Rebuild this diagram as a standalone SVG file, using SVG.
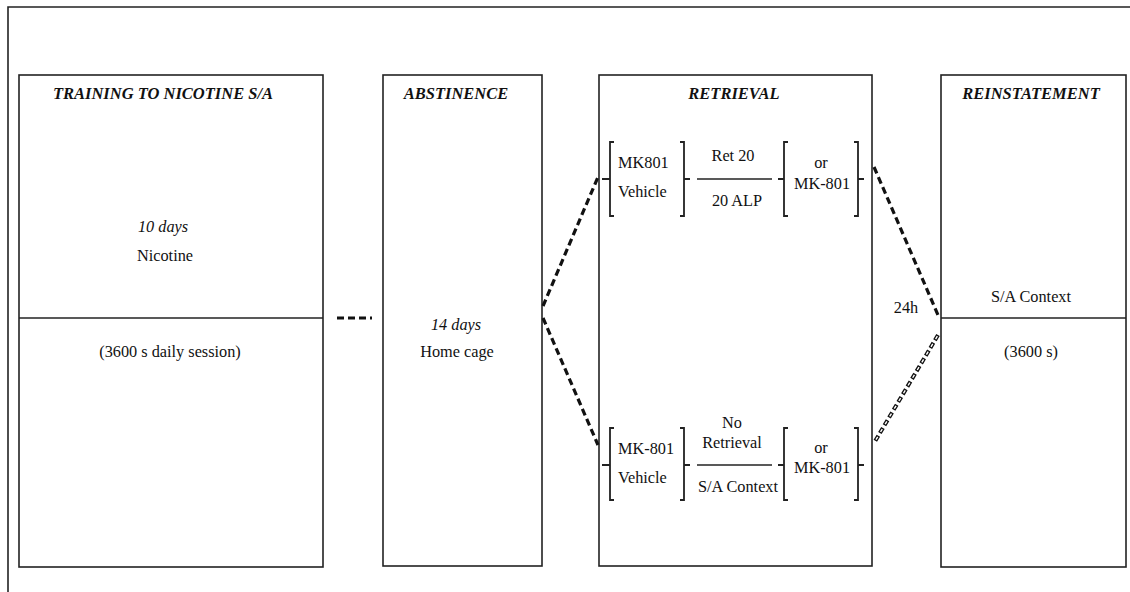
<svg xmlns="http://www.w3.org/2000/svg" width="1130" height="592" viewBox="0 0 1130 592">
  <style>
    .frame { fill: none; stroke: #222; stroke-width: 1.6; }
    .box { fill: #fff; stroke: #222; stroke-width: 1.6; }
    .rule { fill: none; stroke: #222; stroke-width: 1.4; }
    .brk { fill: none; stroke: #222; stroke-width: 1.8; }
    .dash { fill: none; stroke: #111; stroke-width: 3.2; stroke-dasharray: 7 4; }
    .hollow-outer { fill: none; stroke: #111; stroke-width: 4; stroke-dasharray: 6 3; }
    .hollow-inner { fill: none; stroke: #fff; stroke-width: 1.4; stroke-dasharray: 3.4 5.6; stroke-dashoffset: -1.3; }
    text { font-family: "Liberation Serif", "Times New Roman", serif; fill: #111; text-anchor: middle; }
    .title { font-size: 16.5px; font-weight: bold; font-style: italic; }
    .it { font-size: 16.3px; font-style: italic; }
    .txt { font-size: 16.3px; }
    .lft { text-anchor: start; }
  </style>

  <!-- outer frame (open to the right and bottom) -->
  <path class="frame" d="M8,592 V7 H1130"/>

  <!-- training phase -->
  <g id="training">
    <rect class="box" x="19" y="75" width="304" height="492"/>
    <text class="title" x="163" y="99">TRAINING TO NICOTINE S/A</text>
    <text class="it" x="163" y="232">10 days</text>
    <text class="txt" x="165" y="261">Nicotine</text>
    <line class="rule" x1="19" y1="318" x2="323" y2="318"/>
    <text class="txt" x="170" y="357">(3600 s daily session)</text>
  </g>

  <!-- abstinence phase -->
  <g id="abstinence">
    <rect class="box" x="383" y="75" width="159" height="491"/>
    <text class="title" x="456" y="99">ABSTINENCE</text>
    <text class="it" x="456" y="330">14 days</text>
    <text class="txt" x="457" y="357">Home cage</text>
  </g>

  <!-- retrieval phase -->
  <g id="retrieval">
    <rect class="box" x="599" y="75" width="273" height="491"/>
    <text class="title" x="734" y="99">RETRIEVAL</text>

    <!-- upper arm: retrieval session -->
    <g id="retrieval-upper">
      <path class="brk" d="M614,142 H610 V216 H614 M602,179 H610"/>
      <path class="brk" d="M680,142 H684 V216 H680 M684,179 H690"/>
      <text class="txt lft" x="618" y="168">MK801</text>
      <text class="txt lft" x="618" y="197">Vehicle</text>
      <line class="rule" x1="697" y1="179" x2="772" y2="179"/>
      <text class="txt" x="733" y="161">Ret 20</text>
      <text class="txt" x="737" y="206">20 ALP</text>
      <path class="brk" d="M788,142 H784 V216 H788 M778,179 H784"/>
      <path class="brk" d="M854,142 H858 V216 H854 M858,179 H864"/>
      <text class="txt" x="821" y="168">or</text>
      <text class="txt" x="822" y="189">MK-801</text>
    </g>

    <!-- lower arm: no retrieval -->
    <g id="retrieval-lower">
      <path class="brk" d="M614,428 H610 V500 H614 M602,465 H610"/>
      <path class="brk" d="M680,428 H684 V500 H680 M684,465 H690"/>
      <text class="txt lft" x="618" y="454">MK-801</text>
      <text class="txt lft" x="618" y="483">Vehicle</text>
      <text class="txt" x="732" y="428">No</text>
      <text class="txt" x="732" y="448">Retrieval</text>
      <line class="rule" x1="697" y1="465" x2="772" y2="465"/>
      <text class="txt" x="738" y="492">S/A Context</text>
      <path class="brk" d="M788,428 H784 V500 H788 M778,465 H784"/>
      <path class="brk" d="M854,428 H858 V500 H854 M858,465 H864"/>
      <text class="txt" x="821" y="453">or</text>
      <text class="txt" x="822" y="473">MK-801</text>
    </g>
  </g>

  <!-- reinstatement phase -->
  <g id="reinstatement">
    <rect class="box" x="941" y="75" width="185" height="492"/>
    <text class="title" x="1031" y="99">REINSTATEMENT</text>
    <text class="txt" x="1031" y="302">S/A Context</text>
    <line class="rule" x1="941" y1="318" x2="1126" y2="318"/>
    <text class="txt" x="1031" y="357">(3600 s)</text>
  </g>

  <!-- connectors -->
  <g id="connectors">
    <line class="dash" x1="337" y1="318" x2="372" y2="318"/>
    <line class="dash" x1="543" y1="306" x2="598" y2="177"/>
    <line class="dash" x1="543" y1="318" x2="598" y2="445"/>
    <line class="dash" x1="874" y1="167" x2="938" y2="315"/>
    <line class="hollow-outer" x1="938" y1="335" x2="874" y2="443"/>
    <line class="hollow-inner" x1="938" y1="335" x2="874" y2="443"/>
    <text class="txt" x="906" y="313">24h</text>
  </g>
</svg>
